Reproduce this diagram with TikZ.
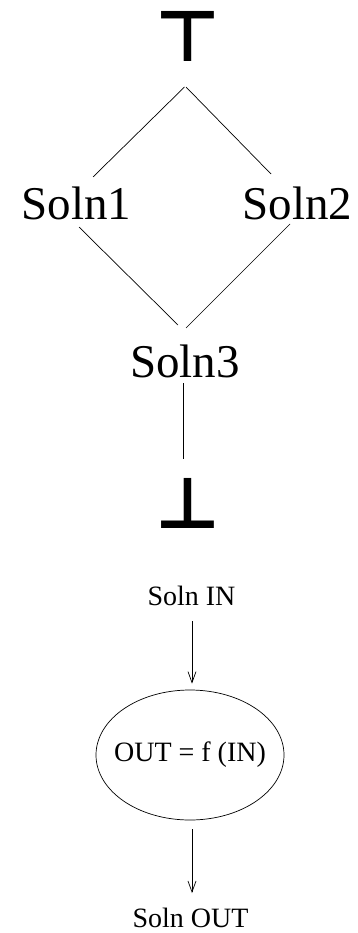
\documentclass[tikz,border=0pt]{standalone}
\usepackage{fontspec}
\setmainfont{Liberation Serif}
\newfontfamily\latfont{DejaVu Sans Bold}
\usetikzlibrary{shapes.geometric,arrows.meta,calc}

\begin{document}
\begin{tikzpicture}[x=1pt,y=-1pt,line width=0.7pt,
		big/.style={font=\fontsize{47}{50}\selectfont,inner sep=0pt,anchor=base},
		small/.style={font=\fontsize{28}{30}\selectfont,inner sep=0pt,anchor=base},
		lat/.style={font=\latfont\fontsize{71}{71}\selectfont,inner sep=0pt,anchor=base},
		fn/.style={ellipse,draw,minimum width=188pt,minimum height=130pt,inner xsep=-12pt,inner ysep=0pt,font=\fontsize{28}{30}\selectfont},
		flow/.style={-{Straight Barb[length=11pt,width=8pt]}}]
	\useasboundingbox (0,0) rectangle (358,933);

	\node[lat](top) at (187.5,62) {⊤};
	\node[big](s1) at (76.5,219) {Soln1};
	\node[big](s2) at (297.5,219) {Soln2};
	\node[big](s3) at (185,377) {Soln3};
	\node[lat](bot) at (187.5,528) {⊥};

	\draw($(top.base)+(-3,25)$) -- ($(s1.base)+(16.5,-42)$);
	\draw($(top.base)+(-1.5,25)$) -- ($(s2.base)+(-26.5,-45)$);
	\draw($(s1.base)+(2.5,8)$) -- ($(s3.base)+(-7,-52)$);
	\draw($(s2.base)+(-7.5,5)$) -- ($(s3.base)+(1,-49)$);
	\draw($(s3.base)+(-2,6)$) -- ($(bot.base)+(-4.5,-69)$);

	\node[small](in) at (191.5,605) {Soln IN};
	\node[fn](f) at (190,755) {OUT = f (IN)};
	\node[small](out) at (190.5,927) {Soln OUT};

	\draw[flow]($(in.base)+(0.5,16)$) -- ($(f.north)+(2,-6)$);
	\draw[flow]($(f.south)+(2,9)$) -- ($(out.base)+(1.5,-34)$);
\end{tikzpicture}
\end{document}
